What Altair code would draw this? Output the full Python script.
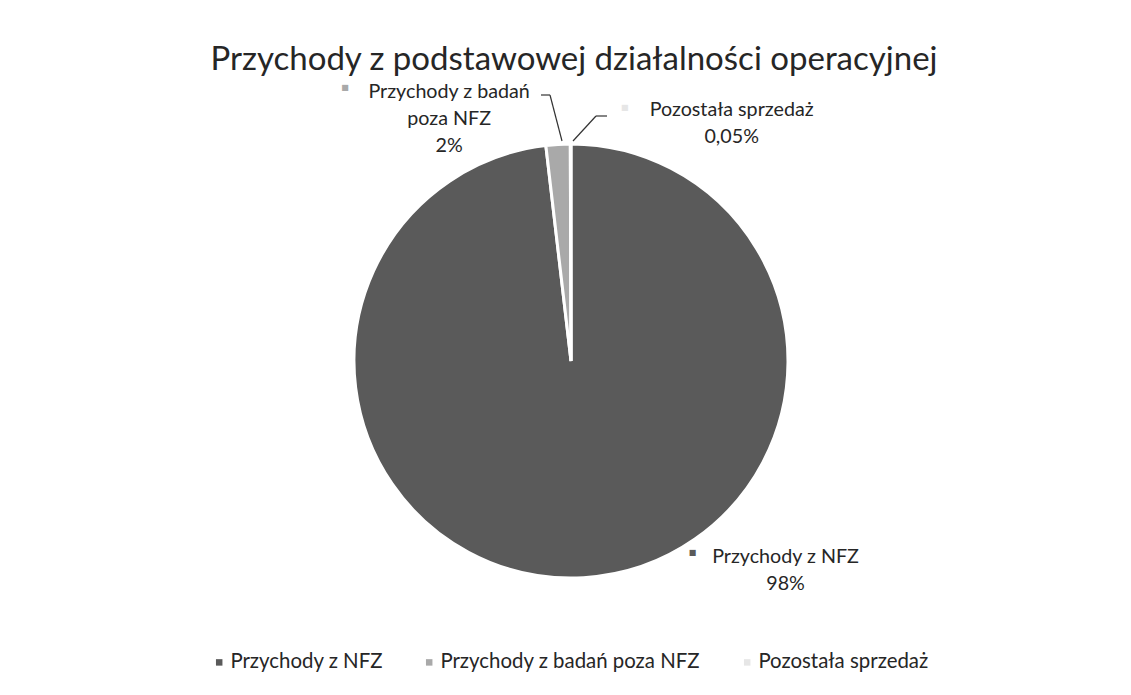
import altair as alt
import pandas as pd

# ---- data ----
kategorie = ["Przychody z NFZ", "Przychody z badań poza NFZ", "Pozostała sprzedaż"]
udzialy = [98.15, 1.8, 0.05]
etykiety = ["Przychody z NFZ\n98%", "Przychody z badań\npoza NFZ\n2%", "Pozostała sprzedaż\n0,05%"]
kolejnosc = [0, 1, 2]
kolory = ["#5a5a5a", "#a9a9a9", "#e6e6e6"]
tytul = "Przychody z podstawowej działalności operacyjnej"

df = pd.DataFrame({
    "kategoria": kategorie,
    "udzial": udzialy,
    "etykieta": etykiety,
    "kolejnosc": kolejnosc,
})

FONT = "Lato"
TXT = "#262626"
R = 217

color_scale = alt.Scale(domain=kategorie, range=kolory)

base = alt.Chart(df)

pie = base.mark_arc(radius=R, stroke="white", strokeWidth=3).encode(
    theta=alt.Theta("udzial:Q", stack=True),
    order=alt.Order("kolejnosc:Q"),
    color=alt.Color(
        "kategoria:N",
        scale=color_scale,
        sort=kategorie,
        legend=alt.Legend(
            title=None,
            orient="none",
            direction="horizontal",
            legendX=190,
            legendY=564,
            symbolType="square",
            symbolSize=42,
            symbolStrokeWidth=0,
            labelFont=FONT,
            labelFontSize=20.4,
            labelColor=TXT,
            labelOffset=1,
            columnPadding=36,
            labelLimit=400,
        ),
    ),
)

pos = base.transform_window(
    cum="sum(udzial)", sort=[alt.SortField("kolejnosc")], frame=[None, 0]
).transform_calculate(mid="datum.cum - datum.udzial / 2")


def etykieta(cat, dx, dy, kdx, kdy):
    sub = pos.transform_filter(alt.datum.kategoria == cat)
    txt = sub.mark_text(
        radius=R - 1, dx=dx, dy=dy, lineBreak="\n", font=FONT, fontSize=19.7,
        lineHeight=27, align="center", baseline="middle", color=TXT,
    ).encode(theta=alt.Theta("mid:Q"), text="etykieta:N")
    key = sub.mark_text(
        radius=R - 1, dx=kdx, dy=kdy, text="■", font="DejaVu Sans", fontSize=8,
        align="center", baseline="middle",
    ).encode(
        theta=alt.Theta("mid:Q"),
        color=alt.Color("kategoria:N", scale=color_scale, legend=None),
    )
    return [txt, key]


lab_nfz = etykieta(kategorie[0], 202, -20, 109, -24)
lab_bad = etykieta(kategorie[1], -109, -53, -213, -57)
lab_poz = etykieta(kategorie[2], 161, -35, 54, -37)

one = base.transform_filter(alt.datum.kolejnosc == 0)


def rule(x1, y1, x2, y2):
    return one.mark_rule(color="#333333", strokeWidth=1.2).encode(
        x=alt.value(x1), y=alt.value(y1), x2=alt.value(x2), y2=alt.value(y2)
    )


leaders = [
    rule(522, 7, 531, 7),
    rule(531, 7, 543, 53),
    rule(588, 28, 577, 28),
    rule(577, 28, 554, 53),
]

chart = alt.layer(pie, *leaders, *lab_nfz, *lab_bad, *lab_poz).properties(
    width=1104,
    height=546,
    padding={"left": 11, "top": 80, "right": 0, "bottom": 53},
    autosize=alt.AutoSizeParams(type="none"),
    title=alt.TitleParams(
        tytul, font=FONT, fontSize=33, fontWeight="normal", color=TXT,
        anchor="middle", offset=5, dx=3,
    ),
).configure_view(stroke=None)

chart.save("out.html", embed_options={"renderer": "svg", "actions": False})
